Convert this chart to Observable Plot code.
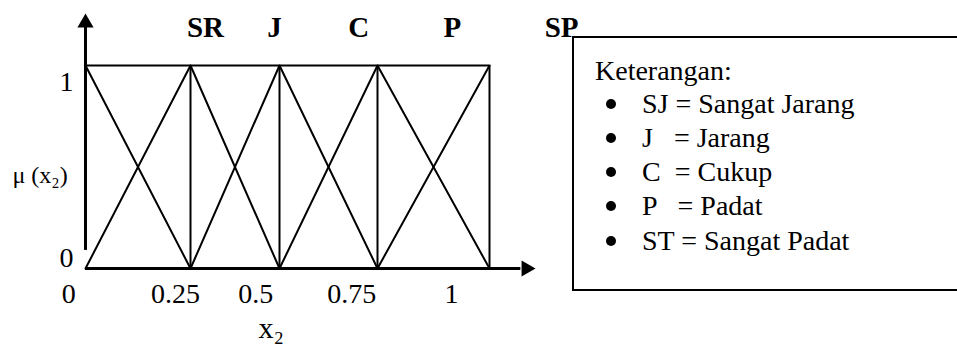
<!DOCTYPE html>
<html><head><meta charset="utf-8">
<script src="https://cdn.jsdelivr.net/npm/d3@7"></script>
<script src="https://cdn.jsdelivr.net/npm/@observablehq/plot@0.6"></script>
<style>
html,body{margin:0;padding:0;background:#fff;}
#wrap{position:relative;width:957px;height:344px;overflow:hidden;font-family:"Liberation Serif","Times New Roman",serif;}
#wrap svg{position:absolute;left:0;top:0;}
#legend{position:absolute;left:572px;top:36px;width:420px;height:255px;border:2px solid #000;box-sizing:border-box;}
.row{position:absolute;font-family:"Liberation Serif","Times New Roman",serif !important;font-size:28px;white-space:pre;line-height:1;color:#000;}
.bullet{position:absolute;width:10px;height:10px;border-radius:50%;background:#000;}
svg text{white-space:pre;}
</style></head><body><div id="wrap"></div>
<script>
// membership function vertices (x = x2, y = membership)
const sjX = [0, 0.25],        sjY = [1, 0];
const jX  = [0, 0.25, 0.5],   jY  = [0, 1, 0];
const cX  = [0.25, 0.5, 0.75], cY = [0, 1, 0];
const pX  = [0.5, 0.75, 1],   pY  = [0, 1, 0];
const spX = [0.75, 1],        spY = [0, 1];
const termNames = ["SJ", "J", "C", "P", "SP"];

// axis ticks & labels
const tickValues  = [0, 0.25, 0.5, 0.75, 1];
const tickLabels  = ["0", "0.25", "0.5", "0.75", "1"];
const tickLabelAt = [-0.04, 0.214, 0.433, 0.684, 0.915];
const yTickLabels  = ["0", "1"];
const yTickLabelAt = [0.005, 0.872];

// header labels above the sets
const headerLabels = ["SR", "J", "C", "P", "SP"];
const headerAt     = [0.292, 0.486, 0.702, 0.917, 1.161];

// legend
const legendTitle = "Keterangan:";
const legendItems = ["SJ = Sangat Jarang", "J   = Jarang", "C  = Cukup", "P   = Padat", "ST = Sangat Padat"];

const sets = [[sjX, sjY], [jX, jY], [cX, cY], [pX, pY], [spX, spY]];
const lineData = sets.flatMap(([xs, ys], i) => xs.map((x, k) => ({term: termNames[i], x, y: ys[k]})));
const xTicks = tickLabels.map((t, i) => ({t, x: tickLabelAt[i]}));
const yTicks = yTickLabels.map((t, i) => ({t, y: yTickLabelAt[i]}));
const headers = headerLabels.map((t, i) => ({t, x: headerAt[i]}));

const font = "Liberation Serif, Times New Roman, serif";
const plot = Plot.plot({
  width: 957,
  height: 344,
  style: {fontFamily: font, background: "transparent", overflow: "visible"},
  x: {type: "linear", domain: tickValues, range: [85, 190, 279, 377, 489], axis: null},
  y: {type: "linear", domain: [0, 1], range: [268, 65], axis: null},
  marks: [
    Plot.ruleY([1], {x1: 0, x2: 1, stroke: "#000", strokeWidth: 2}),
    Plot.ruleX(tickValues.slice(1), {y1: 0, y2: 1, stroke: "#000", strokeWidth: 2}),
    Plot.line(lineData, {x: "x", y: "y", z: "term", stroke: "#000", strokeWidth: 2}),
    // axes
    Plot.ruleX([0], {y1: 0.089, y2: 1.2, stroke: "#000", strokeWidth: 3}),
    Plot.ruleY([0], {x1: 0, x2: 1.07, stroke: "#000", strokeWidth: 3}),
    Plot.dot([{x: 0, y: 1.256}], {x: "x", y: "y", symbol: "triangle", r: 6, fill: "#000", stroke: "none", dy: 9.3}),
    Plot.dot([{x: 1.1027, y: 0}], {x: "x", y: "y", symbol: "triangle", r: 6, fill: "#000", stroke: "none", rotate: 90, dx: -9.3}),
    // tick labels
    Plot.text(xTicks, {x: "x", y: -0.1675, text: "t", lineAnchor: "bottom", fontSize: 28, fill: "#000"}),
    Plot.text(yTicks, {x: 0, y: "y", text: "t", lineAnchor: "bottom", textAnchor: "end", dx: -12, fontSize: 28, fill: "#000"}),
    Plot.text(headers, {x: "x", y: 1.138, text: "t", lineAnchor: "bottom", fontSize: 29, fontWeight: "bold", fill: "#000"}),
    Plot.text(["μ (x₂)"], {x: -0.174, y: 0.458, text: d => d, textAnchor: "start", lineAnchor: "middle", fontSize: 24, fill: "#000"}),
    Plot.text(["x₂"], {x: 0.441, y: -0.34, text: d => d, textAnchor: "start", lineAnchor: "bottom", fontSize: 30, fill: "#000"})
  ]
});
const wrap = document.getElementById("wrap");
wrap.appendChild(plot);

const legend = document.createElement("div");
legend.id = "legend";
wrap.appendChild(legend);
const ox = 574, oy = 38;
function addRow(text, left, baseline) {
  const el = document.createElement("div");
  el.className = "row";
  el.textContent = text;
  el.style.left = (left - ox) + "px";
  el.style.top = (baseline - 23.4 - oy) + "px";
  legend.appendChild(el);
}
addRow(legendTitle, 595, 80);
const baselines = [113, 147, 181, 215, 250];
legendItems.forEach((t, i) => {
  addRow(t, 642, baselines[i]);
  const b = document.createElement("div");
  b.className = "bullet";
  b.style.left = (611 - 5 - ox) + "px";
  b.style.top = (baselines[i] - 9 - 5 - oy) + "px";
  legend.appendChild(b);
});
</script></body></html>
